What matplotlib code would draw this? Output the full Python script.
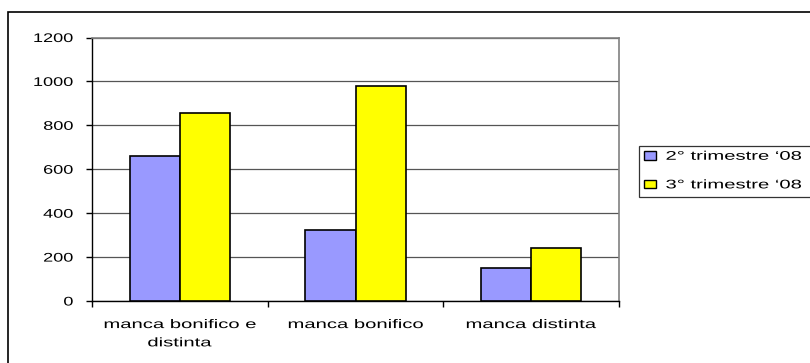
import matplotlib.pyplot as plt
import numpy as np
from matplotlib.patches import Rectangle
from matplotlib.patheffects import AbstractPathEffect
from matplotlib.transforms import Affine2D

plt.rcParams['font.family'] = ['Liberation Sans', 'DejaVu Sans']

categories = ['manca bonifico e\ndistinta', 'manca bonifico', 'manca distinta']
series_names = ['2° trimestre \u201808', '3° trimestre \u201808']
q2_values = [661, 325, 149]
q3_values = [856, 981, 241]
colors = ['#9999ff', '#ffff00']


class Stretch(AbstractPathEffect):
    """Draw text glyphs widened horizontally around a left/center/right anchor."""

    def __init__(self, sx, anchor='center'):
        super().__init__()
        self.sx = sx
        self.anchor = anchor

    def draw_path(self, renderer, gc, tpath, affine, rgbFace=None):
        v = tpath.vertices
        cx = 0.0
        if len(v):
            lo, hi = v[:, 0].min(), v[:, 0].max()
            cx = {'left': lo, 'right': hi, 'center': 0.5 * (lo + hi)}[self.anchor]
        pre = Affine2D().translate(-cx, 0).scale(self.sx, 1).translate(cx, 0)
        renderer.draw_path(gc, tpath, pre + affine, rgbFace)


FS = 9
W, H = 810, 363
fig = plt.figure(figsize=(W / 100, H / 100), dpi=100)

# plot area in pixel coordinates
left, right, top, bottom = 92, 619, 37.5, 301
ax = fig.add_axes([left / W, 1 - bottom / H, (right - left) / W, (bottom - top) / H])

x = np.arange(len(categories))
bw = 0.285
for i, (vals, col, name) in enumerate(zip([q2_values, q3_values], colors, series_names)):
    ax.bar(x + (i - 0.5) * bw, vals, width=bw, color=col, edgecolor='black',
           linewidth=1.2, label=name, zorder=3)

ax.set_xlim(-0.5, len(categories) - 0.5)
ax.set_ylim(0, 1200)
ax.set_yticks(range(0, 1201, 200))
ax.yaxis.grid(True, color='#555555', linewidth=0.9, zorder=0)
ax.set_axisbelow(True)

# category labels centred, tick marks on the category boundaries
ax.set_xticks(x)
ax.set_xticklabels(categories, fontsize=FS, linespacing=1.7)
ax.tick_params(axis='x', length=0, pad=13)
ax.set_xticks(np.arange(-0.5, len(categories), 1), minor=True)
ax.tick_params(axis='x', which='minor', length=4, width=1, color='black', direction='out')
ax.tick_params(axis='y', length=4, width=1, labelsize=FS, pad=9.5)

for lab in ax.get_xticklabels():
    lab.set_path_effects([Stretch(1.62, 'center')])
for lab in ax.get_yticklabels():
    lab.set_path_effects([Stretch(1.45, 'right')])

for side in ['top', 'right']:
    ax.spines[side].set_color('#808080')
    ax.spines[side].set_linewidth(1.2)
for side in ['left', 'bottom']:
    ax.spines[side].set_color('black')
    ax.spines[side].set_linewidth(1.0)

# outer chart frame, running past the image edges
fig.patches.append(Rectangle((7.5 / W, -0.1), 1.2, 1 - 11.5 / H + 0.1,
                             transform=fig.transFigure, fill=False,
                             edgecolor='black', linewidth=1.2, clip_on=False))

leg = ax.legend(loc='upper left', bbox_to_anchor=(639 / W, 0, 300 / W, 1 - 145.5 / H),
                bbox_transform=fig.transFigure, mode='expand', fontsize=FS,
                frameon=True, fancybox=False, edgecolor='black',
                handlelength=0.95, handleheight=0.7, handletextpad=0.75,
                borderpad=0.42, labelspacing=1.33, borderaxespad=0)
leg.get_frame().set_linewidth(0.9)
for h in leg.legend_handles:
    h.set_linewidth(1.0)
for t in leg.get_texts():
    t.set_path_effects([Stretch(1.62, 'left')])

fig.savefig('out.png', dpi=100)
